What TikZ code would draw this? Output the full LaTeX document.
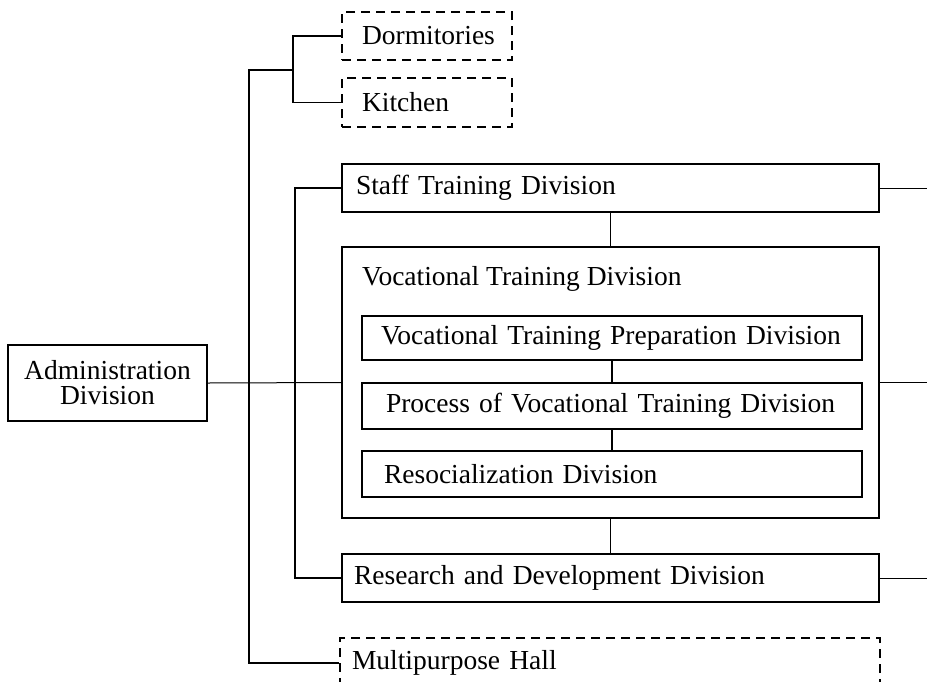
\documentclass[tikz,border=0pt]{standalone}
\usepackage{fontspec}
\setmainfont{Liberation Serif}
\begin{document}
\begin{tikzpicture}[x=1pt,y=-1pt,
  txt/.style={font=\fontsize{27.5}{25}\selectfont},
  box/.style={draw, line width=1.5pt, rectangle, inner ysep=0pt, txt, align=left},
  dbox/.style={box, dashed, dash pattern=on 9pt off 6pt, line width=1.3pt},
  conn/.style={line width=1.8pt},
  thinconn/.style={line width=1pt}]
\useasboundingbox (0,0) rectangle (927,681);
% boxes
\node[dbox, minimum width=170pt, minimum height=48pt, inner xsep=20pt, text width=130pt] (dorm) at (427,36) {Dormitories};
\node[dbox, minimum width=170pt, minimum height=49pt, inner xsep=20pt, text width=130pt] (kit) at (427,102.5) {Kitchen};
\node[box, minimum width=537pt, minimum height=48pt, inner xsep=14pt, text width=509pt] (staff) at (610.5,188) {Staff Training Division};
\node[box, minimum width=537pt, minimum height=271pt, inner sep=0pt] (voc) at (610.5,382.5) {};
\node[txt, anchor=west, inner sep=0pt] (voct) at (362,279) {Vocational Training Division};
\node[box, line width=1.2pt, minimum width=500pt, minimum height=44pt, inner xsep=19pt, text width=462pt] (prep) at (612,338) {Vocational Training Preparation Division};
\node[box, line width=1.2pt, minimum width=500pt, minimum height=46pt, inner xsep=24pt, text width=452pt] (proc) at (612,406) {Process of Vocational Training Division};
\node[box, line width=1.2pt, minimum width=500pt, minimum height=46pt, inner xsep=22pt, text width=456pt] (reso) at (612,474) {Resocialization Division};
\node[box, minimum width=537pt, minimum height=48pt, inner xsep=12pt, text width=513pt] (research) at (610.5,578) {Research and Development Division};
\node[dbox, minimum width=540pt, minimum height=50pt, inner xsep=12pt, text width=516pt] (mph) at (610,663) {Multipurpose Hall};
\node[box, minimum width=199pt, minimum height=76pt, inner xsep=8pt, align=center] (admin) at (107.5,383) {Administration\\Division};
% free ends and bend points
\coordinate (e1) at (927,188);
\coordinate (e2) at (927,382.5);
\coordinate (e3) at (927,578);
\coordinate (l) at (249,70);
\coordinate (t) at (293,70);
\coordinate (m) at (295,300);
% connectors
\draw[thinconn] (admin.east) -- (voc.west);
\draw[thinconn] (voc.east) -- (e2);
\draw[thinconn] (staff.east) -- (e1);
\draw[thinconn] (research.east) -- (e3);
\draw[conn] (staff.south) -- (voc.north);
\draw[conn] (voc.south) -- (research.north);
\draw[conn] (prep.south) -- (proc.north);
\draw[conn] (proc.south) -- (reso.north);
\draw[conn] (mph.west) -| (l) -- (t);
\draw[conn] (dorm.west) -| (t) |- (kit.west);
\draw[conn] (staff.west) -| (m) |- (research.west);
\end{tikzpicture}
\end{document}
